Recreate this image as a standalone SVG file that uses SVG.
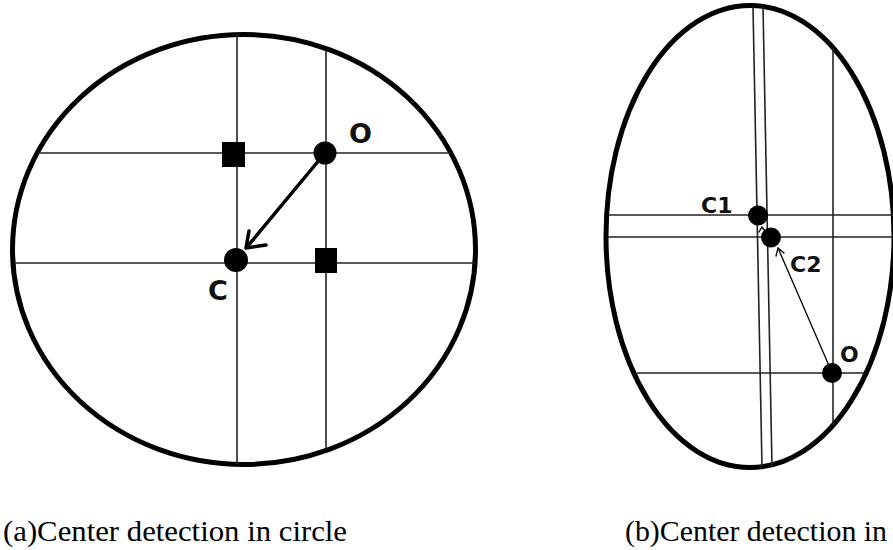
<svg xmlns="http://www.w3.org/2000/svg" width="893" height="550" viewBox="0 0 893 550">
<style>
.outline{fill:none;stroke:#000;stroke-width:5}
.grid{stroke:#222;stroke-width:1.6;fill:none}
.dot{fill:#000}
.lbl{font-family:"DejaVu Sans",Verdana,sans-serif;font-weight:bold;fill:#111}
.cap{font-family:"Liberation Serif","Times New Roman",serif;font-size:30px;fill:#000}
.arrow{fill:none;stroke:#000;stroke-linecap:round;stroke-linejoin:round}
</style>
<rect width="893" height="550" fill="#fff"/>
<g id="circle-a">
<ellipse class="outline" cx="244" cy="249.5" rx="231.5" ry="215"/>
</g>
<g id="grid-a">
<line class="grid" x1="237" y1="34" x2="237" y2="464"/>
<line class="grid" x1="326" y1="51" x2="326" y2="448"/>
<line class="grid" x1="38" y1="153" x2="451" y2="153"/>
<line class="grid" x1="14" y1="263" x2="476" y2="263"/>
</g>
<g id="square-1"><rect x="222" y="142" width="23" height="25" fill="#000"/></g>
<g id="square-2"><rect x="315" y="248" width="22" height="25" fill="#000"/></g>
<g id="node-O-a"><circle class="dot" cx="325" cy="153" r="11.5"/><text class="lbl" x="349" y="143" font-size="27">O</text></g>
<g id="node-C-a"><circle class="dot" cx="236" cy="260" r="12"/><text class="lbl" x="208" y="300" font-size="27">C</text></g>
<g id="ellipse-b">
<ellipse class="outline" cx="750" cy="236.5" rx="144" ry="231"/>
</g>
<g id="grid-b">
<line class="grid" x1="753" y1="7" x2="762" y2="467"/>
<line class="grid" x1="763" y1="7" x2="772" y2="467"/>
<line class="grid" x1="833" y1="48" x2="833" y2="425"/>
<line class="grid" x1="609" y1="215" x2="893" y2="215"/>
<line class="grid" x1="607" y1="237" x2="893" y2="237"/>
<line class="grid" x1="637" y1="373" x2="866" y2="373"/>
</g>
<g id="node-C1"><circle class="dot" cx="758" cy="215.5" r="10"/><text class="lbl" x="701" y="213" font-size="22">C1</text></g>
<g id="node-C2"><circle class="dot" cx="771" cy="237.5" r="10"/><text class="lbl" x="790" y="272" font-size="22">C2</text></g>
<g id="node-O-b"><circle class="dot" cx="832" cy="373" r="10"/><text class="lbl" x="840" y="362" font-size="22">O</text></g>
<g id="connectors">
<line class="arrow" x1="325" y1="153" x2="247" y2="247" stroke-width="3.5"/>
<polyline class="arrow" points="249,231 246,248 266,245" stroke-width="3.5"/>
<line class="arrow" x1="830" y1="368" x2="778" y2="248" stroke-width="1.3" stroke="#333"/>
<polyline class="arrow" points="776,256 778,248 784,253" stroke-width="1.3" stroke="#333"/>
<polyline class="arrow" points="759,232 762,227 765,231" stroke-width="1.3" stroke="#5a7fa8"/>
</g>
<text class="cap" x="3" y="541" textLength="344" lengthAdjust="spacingAndGlyphs">(a)Center detection in circle</text>
<text class="cap" x="625" y="541" textLength="262" lengthAdjust="spacingAndGlyphs">(b)Center detection in</text>
</svg>
